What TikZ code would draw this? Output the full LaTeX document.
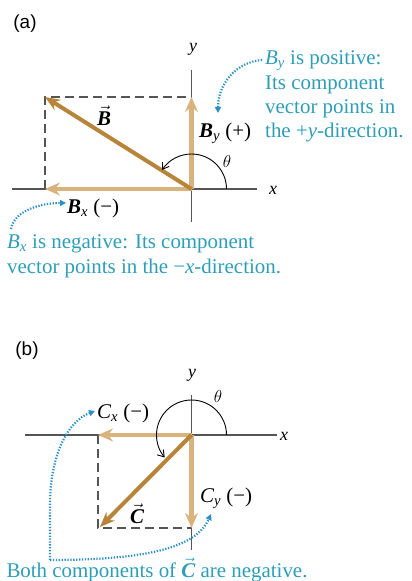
\documentclass[tikz,border=0pt]{standalone}
\usepackage{fontspec}
\setmainfont{Liberation Serif}
\setsansfont{Liberation Sans}
\usetikzlibrary{arrows.meta}
\definecolor{vecdark}{HTML}{B8843A}
\definecolor{veclight}{HTML}{D9B37E}
\definecolor{notec}{HTML}{2E9EB8}
\definecolor{dotc}{HTML}{2B90C8}
\definecolor{axisc}{HTML}{555555}
\tikzset{
  axisline/.style={draw=axisc, line width=1.2bp},
  vecmain/.style={draw=vecdark, line width=4bp, -{Stealth[length=15bp,width=12bp,inset=5bp]}},
  veccomp/.style={draw=veclight, line width=4.5bp, -{Stealth[length=15bp,width=13bp,inset=5bp]}},
  dashedbox/.style={draw=axisc, line width=1.2bp, dash pattern=on 9bp off 5bp},
  anglearc/.style={draw=black, line width=0.9bp, -{Straight Barb[length=6bp,width=8bp]}},
  dotarrow/.style={draw=dotc, line width=2.2bp, dash pattern=on 1.3bp off 1.6bp, -{Triangle[length=6bp,width=6bp]}},
  lbl/.style={inner sep=0pt, font=\fontsize{21}{24}\selectfont},
  axlbl/.style={inner sep=0pt, font=\fontsize{18}{20}\selectfont\itshape},
  notetxt/.style={inner sep=0pt, text=notec, align=left, font=\fontsize{21}{24.5}\selectfont},
  panel/.style={inner sep=0pt, font=\sffamily\fontsize{19}{22}\selectfont},
}
\newcommand{\vecB}{$\vec{\mbox{\bfseries\itshape B}}$}
\newcommand{\vecC}{$\vec{\mbox{\bfseries\itshape C}}$}
\begin{document}
\begin{tikzpicture}[x=1bp,y=-1bp]
\useasboundingbox (0,0) rectangle (411,581);
\fill[white] (0,0) rectangle (411,581);

% ---------------- panel (a)
\node[panel] (pa) at (25,24) {(a)};
\coordinate (Oa) at (191.5,189);
\coordinate (Btip) at (45,97);
\coordinate (Bxtip) at (45,189);
\coordinate (Bytip) at (191.5,97);
\coordinate (xaL) at (12,189);
\coordinate (xaR) at (257,189);
\coordinate (yaT) at (191.5,70);
\coordinate (yaB) at (191.5,222);
\draw[axisline] (xaL) -- (xaR);
\draw[axisline] (yaT) -- (yaB);
\node[axlbl] (xa) at (273,190) {x};
\node[axlbl] (ya) at (193,49) {y};
\draw[dashedbox] (Bxtip) -- (Btip) -- (Bytip);
\draw[veccomp] (Oa) -- (Bxtip);
\draw[veccomp] (Oa) -- (Bytip);
\draw[vecmain] (Oa) -- (Btip);
\draw[anglearc] ([xshift=35bp]Oa) arc[start angle=0, end angle=147, radius=35bp];
\node[axlbl, font=\fontsize{16}{18}\selectfont\itshape] (tha) at (227,162) {$\theta$};
\node[lbl] (Blbl) at (104,116) {\vecB};
\node[lbl, anchor=west] (Bylbl) at (199,133) {{\bfseries\itshape B}\textsubscript{\itshape y}\ (+)};
\node[lbl, anchor=west] (Bxlbl) at (67,208) {{\bfseries\itshape B}\textsubscript{\itshape x}\ (\textminus)};
\node[notetxt, anchor=base west] (noteBy) at (265,138)
  {\textit{B}\textsubscript{\textit{y}} is positive:\\Its component\\vector points in\\the +\textit{y}-direction.};
\node[notetxt, anchor=base west] (noteBx) at (7,273)
  {\textit{B}\textsubscript{\textit{x}} is negative: Its component\\vector points in the \textminus\textit{x}-direction.};
\coordinate (dA1) at (262,60);
\coordinate (dA2) at (218,113);
\draw[dotarrow] (dA1) .. controls (236,62) and (218,84) .. (dA2);
\coordinate (dB1) at (11,229);
\coordinate (dB2) at (66,203);
\draw[dotarrow] (dB1) .. controls (14,211) and (40,203) .. (dB2);

% ---------------- panel (b)
\node[panel] (pb) at (27,351) {(b)};
\coordinate (Ob) at (191.5,435);
\coordinate (Ctip) at (100,527);
\coordinate (Cxtip) at (98,435);
\coordinate (Cytip) at (191.5,528);
\coordinate (cor) at (98,528);
\coordinate (xbL) at (25,435);
\coordinate (xbR) at (277,435);
\coordinate (ybT) at (191.5,395);
\coordinate (ybB) at (191.5,550);
\draw[axisline] (xbL) -- (xbR);
\draw[axisline] (ybT) -- (ybB);
\node[axlbl] (xb) at (284,436) {x};
\node[axlbl] (yb) at (192,375) {y};
\draw[dashedbox] (Cxtip) -- (cor) -- (Cytip);
\draw[veccomp] (Ob) -- (Cxtip);
\draw[veccomp] (Ob) -- (Cytip);
\draw[vecmain] (Ob) -- (Ctip);
\draw[anglearc] ([xshift=35bp]Ob) arc[start angle=0, end angle=220, radius=35bp];
\node[axlbl, font=\fontsize{16}{18}\selectfont\itshape] (thb) at (218,397) {$\theta$};
\node[lbl] (Clbl) at (137,514) {\vecC};
\node[lbl, anchor=west] (Cxlbl) at (97,413) {{\itshape C}\textsubscript{\itshape x}\ (\textminus)};
\node[lbl, anchor=west] (Cylbl) at (200,498) {{\itshape C}\textsubscript{\itshape y}\ (\textminus)};
\node[notetxt, anchor=base] (noteC) at (157,577)
  {Both components of {\color{notec}\vecC} are negative.};
\coordinate (dC0) at (50,560);
\coordinate (dC1) at (95,411);
\coordinate (dC2) at (211,514);
\draw[dotarrow] (dC0) -- (50,505) .. controls (50,455) and (68,421) .. (dC1);
\draw[dotarrow] (dC0) .. controls (145,560) and (196,548) .. (dC2);
\end{tikzpicture}
\end{document}
